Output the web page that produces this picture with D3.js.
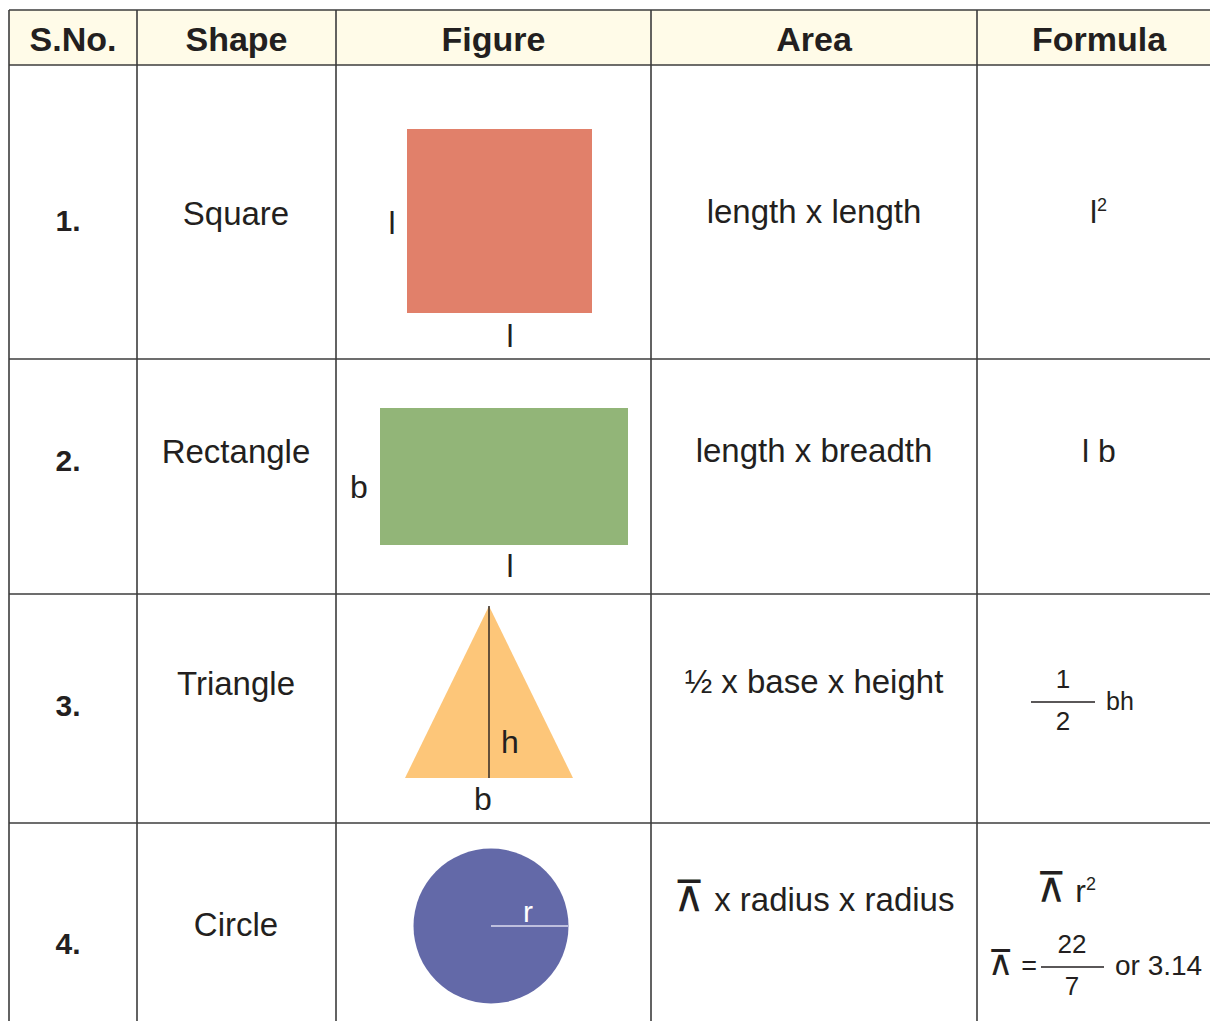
<!DOCTYPE html>
<html>
<head>
<meta charset="utf-8">
<script src="https://cdn.jsdelivr.net/npm/d3@7"></script>
<style>
  html, body { margin: 0; padding: 0; background: #fff; }
  text { font-family: "Liberation Sans", Arial, sans-serif; fill: #231f20; }
  .head { font-family: "Liberation Sans Narrow", "Arial Narrow", "Liberation Sans", sans-serif; font-weight: bold; font-size: 34px; }
  .pi { font-family: "DejaVu Sans", sans-serif; font-size: 1.3em; }
</style>
</head>
<body>
<div id="chart"></div>
<script>
'use strict'
// table content
var headers = ['S.No.', 'Shape', 'Figure', 'Area', 'Formula']
var serials = ['1.', '2.', '3.', '4.']
var shapes = ['Square', 'Rectangle', 'Triangle', 'Circle']
var areas = ['length x length', 'length x breadth', '½ x base x height', ' x radius x radius']
var figureColors = ['#e1806a', '#92b578', '#fdc679', '#6369a8']

var PI = '⊼'
var W = 1210, H = 1021
var colEdges = [9, 137, 336, 651, 977, 1215]
var rowEdges = [10, 65, 359, 594, 823, 1030]
var ink = '#231f20', lineCol = '#3c3c3c'

var svg = d3.select('#chart').append('svg')
  .attr('width', W).attr('height', H)

var colMid = function (i) { return (colEdges[i] + colEdges[i + 1]) / 2 }

// header background
svg.append('rect')
  .attr('x', colEdges[0]).attr('y', rowEdges[0])
  .attr('width', colEdges[5] - colEdges[0]).attr('height', rowEdges[1] - rowEdges[0])
  .attr('fill', '#fffbe8')

svg.selectAll('text.head').data(headers).enter().append('text')
  .attr('class', 'head')
  .attr('x', function (d, i) { return i === 0 ? 73 : colMid(i) + (i === 4 ? 3 : 0) })
  .attr('y', 51)
  .attr('text-anchor', 'middle')
  .text(function (d) { return d })

// grid lines
svg.selectAll('line.h').data(rowEdges.slice(0, 5)).enter().append('line')
  .attr('x1', colEdges[0]).attr('x2', W)
  .attr('y1', function (d) { return d }).attr('y2', function (d) { return d })
  .attr('stroke', lineCol).attr('stroke-width', 1.6)
svg.selectAll('line.v').data(colEdges.slice(0, 5)).enter().append('line')
  .attr('x1', function (d) { return d }).attr('x2', function (d) { return d })
  .attr('y1', rowEdges[0]).attr('y2', H)
  .attr('stroke', lineCol).attr('stroke-width', 1.6)

// text offsets inside each row
var serialY = [231, 471, 716, 954]
var shapeY = [225, 463, 695, 936]
var areaY = [223, 462, 693, 911]

svg.selectAll('text.sn').data(serials).enter().append('text')
  .attr('x', 68).attr('y', function (d, i) { return serialY[i] })
  .attr('text-anchor', 'middle')
  .attr('font-weight', 'bold').attr('font-size', 30)
  .text(function (d) { return d })

svg.selectAll('text.shape').data(shapes).enter().append('text')
  .attr('x', 236).attr('y', function (d, i) { return shapeY[i] })
  .attr('text-anchor', 'middle').attr('font-size', 33)
  .text(function (d) { return d })

svg.selectAll('text.area').data(areas).enter().append('text')
  .attr('x', 814).attr('y', function (d, i) { return areaY[i] })
  .attr('text-anchor', 'middle').attr('font-size', 33)
  .each(function (d, i) {
    var t = d3.select(this)
    if (i === 3) t.append('tspan').attr('class', 'pi').text(PI)
    t.append('tspan').text(d)
  })

// figures
var label = function (t, x, y, size, color) {
  svg.append('text').attr('x', x).attr('y', y)
    .attr('text-anchor', 'middle').attr('font-size', size || 32)
    .style('fill', color || ink).text(t)
}

// square
svg.append('rect').attr('x', 407).attr('y', 129).attr('width', 185).attr('height', 184)
  .attr('fill', figureColors[0])
label('l', 392, 234)
label('l', 510, 347)

// rectangle
svg.append('rect').attr('x', 380).attr('y', 408).attr('width', 248).attr('height', 137)
  .attr('fill', figureColors[1])
label('b', 359, 498)
label('l', 510, 577)

// triangle
svg.append('path')
  .attr('d', d3.line()([[489, 606], [573, 778], [405, 778]]) + 'Z')
  .attr('fill', figureColors[2])
svg.append('line').attr('x1', 489).attr('x2', 489).attr('y1', 606).attr('y2', 778)
  .attr('stroke', ink).attr('stroke-width', 1.4)
label('h', 510, 753)
label('b', 483, 810)

// circle
svg.append('circle').attr('cx', 491).attr('cy', 926).attr('r', 77.5)
  .attr('fill', figureColors[3])
svg.append('line').attr('x1', 491).attr('x2', 568).attr('y1', 926).attr('y2', 926)
  .attr('stroke', '#dcdcf0').attr('stroke-width', 1.6)
label('r', 528, 922, 30, '#ffffff')

// formulas
var f = svg.append('g')
var t1 = f.append('text').attr('x', 1090).attr('y', 223).attr('font-size', 32)
t1.append('tspan').text('l')
t1.append('tspan').attr('dy', -12).attr('font-size', 18).text('2')

label('l b', 1099, 462)

// 1/2 bh
var frac = function (num, den, x, y, x1, x2) {
  f.append('line').attr('x1', x1).attr('x2', x2).attr('y1', y).attr('y2', y)
    .attr('stroke', ink).attr('stroke-width', 1.6)
  label(num, x, y - 14, 26)
  label(den, x, y + 28, 26)
}
frac('1', '2', 1063, 702, 1031, 1095)
f.append('text').attr('x', 1106).attr('y', 710).attr('font-size', 25).text('bh')

// circle formulas
var t2 = f.append('text').attr('x', 1036).attr('y', 902).attr('font-size', 32)
t2.append('tspan').attr('class', 'pi').text(PI)
t2.append('tspan').text(' r')
t2.append('tspan').attr('dy', -12).attr('font-size', 18).text('2')

var t3 = f.append('text').attr('x', 988).attr('y', 975).attr('font-size', 27)
t3.append('tspan').attr('class', 'pi').text(PI)
t3.append('tspan').text(' =')
frac('22', '7', 1072, 967, 1041, 1104)
f.append('text').attr('x', 1115).attr('y', 975).attr('font-size', 28).text('or 3.14')
</script>
</body>
</html>
